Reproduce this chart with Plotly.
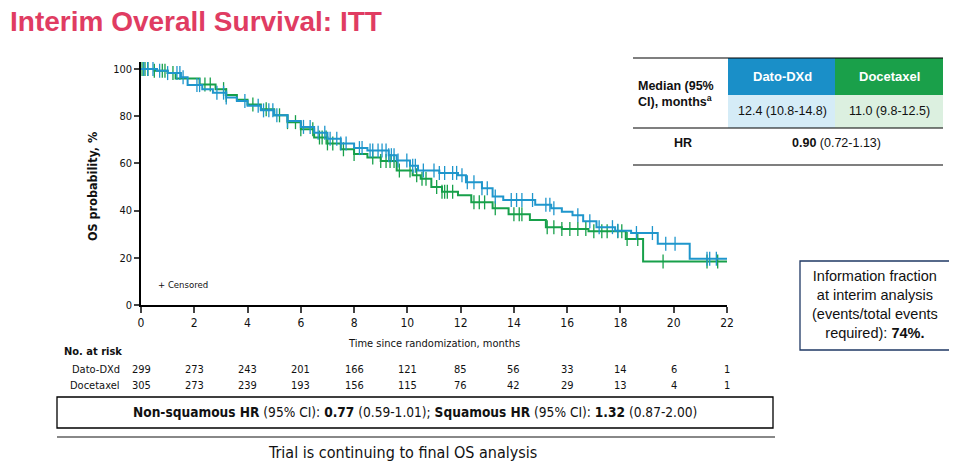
import numpy as np
import plotly.graph_objects as go

# Kaplan-Meier step knots (months, OS %)
dato_t = [0, 0.6, 1.0, 1.5, 1.75, 2.3, 2.7, 3.2, 3.6, 4.0, 4.5, 5.0, 5.5, 6.0, 6.5, 7.0, 7.5, 8.0, 8.5,
          9.3, 9.6, 10.1, 10.4, 11.2, 11.9, 12.2, 12.8, 13.2, 13.6, 14.8, 15.4, 15.8, 16.2, 16.6, 17.1,
          17.8, 18.4, 19.4, 20.6, 22.0]
dato_s = [100, 99.3, 98.3, 96.5, 93.2, 91.5, 90, 88, 86.5, 84.5, 82.5, 80.4, 78, 75.5, 73, 70.5, 68.5, 66.5, 65.5,
          63.5, 61.3, 59, 57, 56, 55, 52, 49.5, 46, 44.5, 42.5, 41, 39.5, 38, 35.5, 33,
          31.5, 30.5, 26, 19.6, 19.6]

doce_t = [0, 0.5, 1.0, 1.3, 2.2, 2.8, 3.2, 3.6, 4.0, 4.5, 5.0, 5.5, 6.0, 6.5, 7.0, 7.5, 8.0, 8.5, 9.0,
          9.6, 10.2, 10.5, 10.9, 11.3, 11.9, 12.4, 13.2, 13.8, 14.6, 15.2, 15.8, 16.8, 18.2, 18.85, 22.0]
doce_s = [100, 99.3, 98.3, 96, 93.5, 91.5, 89, 87, 85, 83, 80.4, 77.5, 74.5, 71, 68.5, 66, 64, 62.5, 61,
          57, 55, 53.5, 50, 48, 46.5, 43.5, 41, 38.5, 36, 33, 32.2, 31.3, 28, 18.4, 18.4]

# censoring times (months)
dato_cens = [0.1, 0.25, 0.45, 0.7, 1.0, 1.35, 1.46, 1.58, 2.1, 2.2, 2.85, 3.1, 3.2, 3.9, 4.4, 4.6, 4.8, 4.95,
             5.1, 5.5, 6.1, 6.35, 6.65, 6.9, 7.1, 7.35, 7.5, 7.7, 8.2, 8.3, 8.6, 8.7, 8.9, 9.05, 9.2, 9.3,
             9.4, 9.5, 9.65, 9.98, 10.2, 10.3, 10.6, 11.0, 11.2, 11.4, 11.7, 11.85, 12.05, 12.25, 12.5,
             12.8, 13.0, 13.3, 13.9, 14.1, 14.3, 14.7, 15.2, 15.35, 15.5, 16.4, 16.85, 17.2, 17.7, 17.9,
             18.6, 19.2, 19.7, 20.05, 21.25, 21.35, 21.6]
doce_cens = [0.04, 0.15, 0.26, 0.5, 0.8, 0.9, 1.2, 2.4, 2.6, 3.1, 3.2, 4.2, 4.7, 5.2, 5.5, 5.8, 6.0, 6.45,
             6.7, 6.8, 6.95, 7.0, 7.2, 7.6, 8.0, 8.7, 9.0, 9.2, 9.35, 9.5, 9.7, 10.1, 10.35, 10.55, 10.7,
             11.1, 11.3, 11.4, 11.5, 11.7, 12.5, 12.7, 12.9, 13.3, 14.0, 14.2, 14.3, 15.25, 15.5, 15.8,
             16.1, 16.4, 16.7, 17.0, 17.3, 17.5, 17.9, 18.05, 18.25, 18.65, 19.6, 21.25, 21.65]

# numbers at risk
risk_times = [0, 2, 4, 6, 8, 10, 12, 14, 16, 18, 20, 22]
dato_risk = [299, 273, 243, 201, 166, 121, 85, 56, 33, 14, 6, 1]
doce_risk = [305, 273, 239, 193, 156, 115, 76, 42, 29, 13, 4, 1]

BLUE = "#1F96CC"
GREEN = "#17A04A"
NARROW = "DejaVu Sans Condensed, Liberation Sans Narrow, sans-serif"
ARIAL = "Liberation Sans, Arial, sans-serif"

# page body has an 8px margin, so the figure is drawn that much smaller and positions are shifted
OFF = 8
W, H = 957 - OFF, 464 - OFF


def px(x):
    return (x - OFF) / W


def py(y):
    return 1 - (y - OFF) / H


def surv_at(times, kt, ks):
    kt = np.array(kt)
    ks = np.array(ks)
    idx = np.searchsorted(kt, np.array(times), side="right") - 1
    return ks[idx]


fig = go.Figure()
for kt, ks, cens, col, name in [(doce_t, doce_s, doce_cens, GREEN, "Docetaxel"),
                                (dato_t, dato_s, dato_cens, BLUE, "Dato-DXd")]:
    fig.add_trace(go.Scatter(x=kt, y=ks, mode="lines", line=dict(color=col, width=2, shape="hv"),
                             name=name, showlegend=False, hoverinfo="skip"))
    fig.add_trace(go.Scatter(x=cens, y=surv_at(cens, kt, ks), mode="markers",
                             marker=dict(symbol="line-ns", size=10, line=dict(color=col, width=1.3)),
                             showlegend=False, hoverinfo="skip"))

fig.update_layout(
    width=W, height=H, margin=dict(l=0, r=0, t=0, b=0),
    paper_bgcolor="white", plot_bgcolor="white",
    font=dict(family=NARROW, size=11, color="#111"),
    xaxis=dict(domain=[px(141), px(727)], range=[0, 22], tickvals=risk_times,
               showline=True, linecolor="black", linewidth=1.5, ticks="outside", ticklen=6,
               tickwidth=1.5, showgrid=False, zeroline=False, automargin=False,
               tickfont=dict(family=NARROW, size=12)),
    yaxis=dict(domain=[py(305), py(62)], range=[0, 103], tickvals=[0, 20, 40, 60, 80, 100],
               showline=True, linecolor="black", linewidth=1.5, ticks="outside", ticklen=5,
               tickwidth=1.5, showgrid=False, zeroline=False, automargin=False,
               tickfont=dict(family=NARROW, size=11)),
)

ann = []
ann.append(dict(x=px(9), y=py(21), text="<b>Interim Overall Survival: ITT</b>", xanchor="left",
                borderpad=0, font=dict(family=ARIAL, size=28, color="#E03C62")))
ann.append(dict(x=px(92), y=py(187), text="<b>OS probability, %</b>", textangle=-90,
                font=dict(family=NARROW, size=12.5)))
ann.append(dict(x=px(434), y=py(343), text="Time since randomization, months",
                font=dict(family=NARROW, size=11)))
ann.append(dict(x=px(156), y=py(284), text="+ Censored", xanchor="left",
                font=dict(family=NARROW, size=9.5)))

# number at risk
ann.append(dict(x=px(62), y=py(351), text="<b>No. at risk</b>", xanchor="left",
                font=dict(family=NARROW, size=11)))
ann.append(dict(x=px(122), y=py(369), text="Dato-DXd", xanchor="right", font=dict(family=NARROW, size=11)))
ann.append(dict(x=px(122), y=py(385), text="Docetaxel", xanchor="right", font=dict(family=NARROW, size=11)))
for t, a, b in zip(risk_times, dato_risk, doce_risk):
    ann.append(dict(x=t, xref="x", y=py(369), text=str(a), font=dict(family=NARROW, size=11)))
    ann.append(dict(x=t, xref="x", y=py(385), text=str(b), font=dict(family=NARROW, size=11)))

# median table
ann.append(dict(x=px(676), y=py(94), text="<b>Median (95%<br>CI), months<sup>a</sup></b>",
                align="left", font=dict(family=ARIAL, size=12.5)))
ann.append(dict(x=px(782), y=py(76), text="<b>Dato-DXd</b>", font=dict(family=ARIAL, size=13, color="white")))
ann.append(dict(x=px(889), y=py(76), text="<b>Docetaxel</b>", font=dict(family=ARIAL, size=13, color="white")))
ann.append(dict(x=px(782), y=py(111), text="12.4 (10.8-14.8)", font=dict(family=ARIAL, size=12.5)))
ann.append(dict(x=px(889), y=py(111), text="11.0 (9.8-12.5)", font=dict(family=ARIAL, size=12.5)))
ann.append(dict(x=px(683), y=py(143), text="<b>HR</b>", font=dict(family=ARIAL, size=12.5)))
ann.append(dict(x=px(836), y=py(143), text="<b>0.90</b> (0.72-1.13)", font=dict(family=ARIAL, size=12.5)))

# information fraction box
ann.append(dict(x=px(875), y=py(304),
                text="Information fraction<br>at interim analysis<br>(events/total events<br>required): <b>74%.</b>",
                font=dict(family=ARIAL, size=14.5), align="center"))

# bottom notes
ann.append(dict(x=px(415), y=py(412),
                text="<b>Non-squamous HR</b> (95% CI): <b>0.77</b> (0.59-1.01); <b>Squamous HR</b> (95% CI): <b>1.32</b> (0.87-2.00)",
                font=dict(family=NARROW, size=13.6)))
ann.append(dict(x=px(402), y=py(452), text="Trial is continuing to final OS analysis",
                font=dict(family=NARROW, size=16)))

for a in ann:
    a.setdefault("xref", "paper")
    a.setdefault("yref", "paper")
    a.setdefault("showarrow", False)
    a.setdefault("xanchor", "center")
    a.setdefault("yanchor", "middle")
    fig.add_annotation(**a)

shapes = [
    dict(type="rect", x0=px(728), x1=px(835), y0=py(95), y1=py(58), fillcolor="#1A8FC8", line_width=0),
    dict(type="rect", x0=px(835), x1=px(943), y0=py(95), y1=py(58), fillcolor="#1AA04A", line_width=0),
    dict(type="rect", x0=px(728), x1=px(835), y0=py(128), y1=py(95), fillcolor="#D5ECF7", line_width=0),
    dict(type="rect", x0=px(835), x1=px(943), y0=py(128), y1=py(95), fillcolor="#DCF0E0", line_width=0),
    dict(type="line", x0=px(633), x1=px(943), y0=py(58), y1=py(58), line=dict(color="black", width=1.2)),
    dict(type="line", x0=px(633), x1=px(943), y0=py(128), y1=py(128), line=dict(color="black", width=1.2)),
    dict(type="line", x0=px(633), x1=px(943), y0=py(165), y1=py(165), line=dict(color="black", width=1.2)),
    dict(type="rect", x0=px(800), x1=px(950), y0=py(350), y1=py(261), line=dict(color="#1F3864", width=1.3)),
    dict(type="rect", x0=px(57), x1=px(773), y0=py(428), y1=py(397), line=dict(color="black", width=1.3)),
    dict(type="line", x0=px(57), x1=px(775), y0=py(437), y1=py(437), line=dict(color="#888", width=2)),
]
for s in shapes:
    s["xref"] = "paper"
    s["yref"] = "paper"
    fig.add_shape(**s)

fig.write_html("out.html")
